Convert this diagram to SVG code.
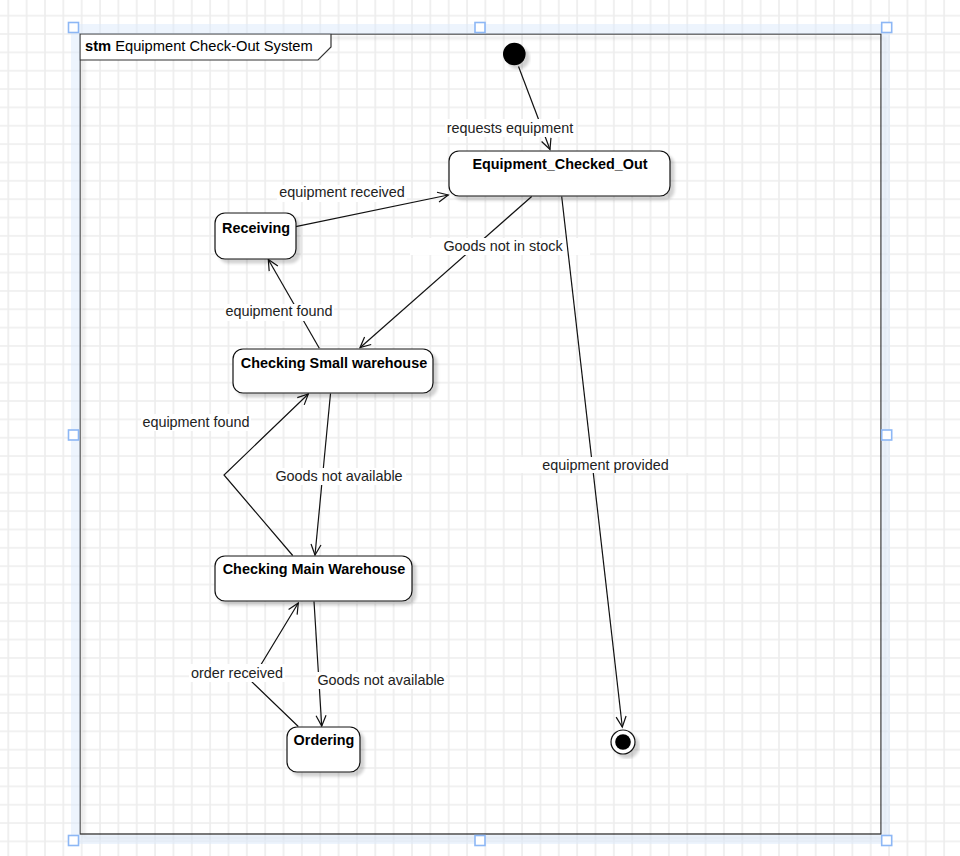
<svg xmlns="http://www.w3.org/2000/svg" width="960" height="856" viewBox="0 0 960 856">
  <defs>
    <pattern id="grid" x="7.3" y="14.7" width="18.35" height="18.35" patternUnits="userSpaceOnUse">
      <path d="M1 0 V18.35 M0 1 H18.35" stroke="#ededed" stroke-width="1.6" fill="none"/>
    </pattern>
    <filter id="shadow" x="-20%" y="-20%" width="140%" height="140%">
      <feGaussianBlur in="SourceAlpha" stdDeviation="1.8"/>
      <feOffset dx="4" dy="4" result="b"/>
      <feComponentTransfer><feFuncA type="linear" slope="0.18"/></feComponentTransfer>
      <feMerge><feMergeNode/><feMergeNode in="SourceGraphic"/></feMerge>
    </filter>
    <marker id="open" markerUnits="userSpaceOnUse" markerWidth="14" markerHeight="14" viewBox="-12 -7 14 14" refX="0" refY="0" orient="auto">
      <path d="M-10.5,-5 L0,0 L-10.5,5" fill="none" stroke="#111" stroke-width="1.2"/>
    </marker>
    <style>
      .node { fill: #ffffff; stroke: #111111; stroke-width: 1.2; }
      .ntext { font-family: "Liberation Sans", Arial, sans-serif; font-size: 14.4px; font-weight: bold; fill: #000; text-anchor: middle; }
      .edge { fill: none; stroke: #111111; stroke-width: 1.2; marker-end: url(#open); }
      .ltext { font-family: "Liberation Sans", Arial, sans-serif; font-size: 14.4px; fill: #222; text-anchor: middle; }
      .lbg { fill: #ffffff; }
      .handle { fill: #ffffff; stroke: #8db7f5; stroke-width: 1.6; }
    </style>
  </defs>

  <rect width="960" height="856" fill="#ffffff"/>
  <rect width="960" height="856" fill="url(#grid)"/>

  <!-- frame -->
  <g id="frame">
    <rect x="80" y="34" width="801" height="800" fill="none" stroke="#333" stroke-width="1.3" filter="url(#shadow)"/>
    <path d="M80,34 H331 V47 L318,60 H80 Z" fill="#ffffff" stroke="#333" stroke-width="1.2"/>
    <text x="85" y="51" font-family="'Liberation Sans', Arial, sans-serif" font-size="14.7" fill="#000"><tspan font-weight="bold">stm</tspan> Equipment Check-Out System</text>
  </g>

  <!-- connectors -->
  <g id="connectors">
    <path class="edge" d="M518.5,66.5 L550,149.5"/>
    <path class="edge" d="M295.7,226.7 L448.3,195"/>
    <path class="edge" d="M531.7,196.5 L360,347.7"/>
    <path class="edge" d="M319.3,348.3 L268.3,259.5"/>
    <path class="edge" d="M330.5,393.5 L315,555"/>
    <path class="edge" d="M292.7,555.5 L224,475 L308.3,394"/>
    <path class="edge" d="M314,601.5 L321.7,726"/>
    <path class="edge" d="M298.3,726.5 L251,681 L298.3,603"/>

    <rect class="lbg" x="445" y="119" width="131" height="18"/>
    <text class="ltext" x="510" y="133">requests equipment</text>
    <rect class="lbg" x="277" y="185" width="130" height="17"/>
    <text class="ltext" x="342" y="197">equipment received</text>
    <rect class="lbg" x="410" y="238" width="180" height="17"/>
    <text class="ltext" x="503" y="251">Goods not in stock</text>
    <rect class="lbg" x="224" y="304" width="110" height="17"/>
    <text class="ltext" x="279" y="316">equipment found</text>
    <rect class="lbg" x="141" y="414" width="110" height="17"/>
    <text class="ltext" x="196" y="427">equipment found</text>
    <rect class="lbg" x="272" y="468" width="134" height="17"/>
    <text class="ltext" x="339" y="481">Goods not available</text>
    <rect class="lbg" x="316" y="672" width="130" height="17"/>
    <text class="ltext" x="381" y="685">Goods not available</text>
    <rect class="lbg" x="189" y="664" width="96" height="18"/>
    <text class="ltext" x="237" y="677.5">order received</text>

    <path class="edge" d="M561.7,196.5 L622.3,727"/>
    <rect class="lbg" x="512" y="457" width="186" height="16"/>
    <text class="ltext" x="605.5" y="469.5">equipment provided</text>
  </g>

  <!-- nodes -->
  <g id="initial">
    <circle cx="514.3" cy="54" r="11.3" fill="#000" filter="url(#shadow)"/>
  </g>
  <g id="equipment-checked-out">
    <rect class="node" x="449" y="151" width="221" height="45" rx="10" filter="url(#shadow)"/>
    <text class="ntext" x="560" y="169">Equipment_Checked_Out</text>
  </g>
  <g id="receiving">
    <rect class="node" x="215" y="213" width="81" height="46" rx="10" filter="url(#shadow)"/>
    <text class="ntext" x="256" y="233">Receiving</text>
  </g>
  <g id="checking-small">
    <rect class="node" x="233" y="349" width="200" height="44" rx="10" filter="url(#shadow)"/>
    <text class="ntext" x="334" y="367.5">Checking Small warehouse</text>
  </g>
  <g id="checking-main">
    <rect class="node" x="215" y="556" width="197" height="45" rx="10" filter="url(#shadow)"/>
    <text class="ntext" x="314" y="574.3">Checking Main Warehouse</text>
  </g>
  <g id="ordering">
    <rect class="node" x="287" y="727" width="73" height="45" rx="10" filter="url(#shadow)"/>
    <text class="ntext" x="324" y="745">Ordering</text>
  </g>
  <g id="final">
    <circle cx="623" cy="742" r="12" fill="#fff" stroke="#111" stroke-width="1.2" filter="url(#shadow)"/>
    <circle cx="623" cy="742" r="7.8" fill="#000"/>
  </g>

  <!-- selection -->
  <g id="selection">
    <path d="M71,24 H890 V844 H71 Z M80,34 V835 H881.5 V34 Z" fill="#dbe9fc" fill-opacity="0.5" fill-rule="evenodd"/>
    <rect class="handle" x="68.5" y="22.5" width="10" height="10"/>
    <rect class="handle" x="475" y="22.5" width="10" height="10"/>
    <rect class="handle" x="881.7" y="22.5" width="10" height="10"/>
    <rect class="handle" x="68.5" y="430" width="10" height="10"/>
    <rect class="handle" x="881.7" y="430" width="10" height="10"/>
    <rect class="handle" x="68.5" y="835.5" width="10" height="10"/>
    <rect class="handle" x="475" y="835.5" width="10" height="10"/>
    <rect class="handle" x="881.7" y="835.5" width="10" height="10"/>
  </g>
</svg>
